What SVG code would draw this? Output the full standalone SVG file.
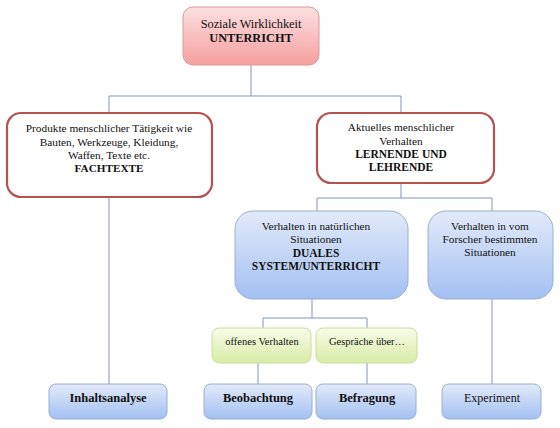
<svg xmlns="http://www.w3.org/2000/svg" width="560" height="428" viewBox="0 0 560 428">
<defs>
<linearGradient id="gPink" x1="0" y1="0" x2="0" y2="1">
<stop offset="0" stop-color="#fde0e0"/>
<stop offset="1" stop-color="#f59f9f"/>
</linearGradient>
<linearGradient id="gBlue" x1="0" y1="0" x2="0" y2="1">
<stop offset="0" stop-color="#e2eaf9"/>
<stop offset="1" stop-color="#a3c0f2"/>
</linearGradient>
<linearGradient id="gGreen" x1="0" y1="0" x2="0" y2="1">
<stop offset="0" stop-color="#f7fbe8"/>
<stop offset="1" stop-color="#d8eca6"/>
</linearGradient>
</defs>
<style>
text{font-family:"Liberation Serif","Times New Roman",serif;fill:#111;text-anchor:middle}
.n{font-size:11.3px}
.b{font-size:11.5px;font-weight:bold}
.bb{font-size:12.5px;font-weight:bold}
.pink{fill:url(#gPink);stroke:#dc9a9a;stroke-width:1}
.red{fill:#fff;stroke:#b5514f;stroke-width:2.2}
.blue{fill:url(#gBlue);stroke:#98aed2;stroke-width:1}
.green{fill:url(#gGreen);stroke:#c9de97;stroke-width:1}
.c{stroke:#8395b5;stroke-width:1;fill:none}
</style>
<rect width="560" height="428" fill="#fff"/>
<g id="connectors">
<path class="c" d="M251,65V96M109,96H401M109,96V113M401,96V113M109,197V384M401,183V198M317,198H492M317,198V211M492,198V211M312,299V318M263,318H367M263,318V328M367,318V328M258,363V384M367,363V384M492,299V384"/>
</g>
<g id="n-unterricht">
<rect class="pink" x="183" y="7" width="136" height="58" rx="10"/>
<text class="n" x="251" y="28" style="font-size:12.3px">Soziale Wirklichkeit</text>
<text class="b" x="251" y="42" style="font-size:12.3px">UNTERRICHT</text>
</g>
<g id="n-fachtexte">
<rect class="red" x="7" y="113" width="205" height="84" rx="14"/>
<text class="n" x="109" y="132">Produkte menschlicher Tätigkeit wie</text>
<text class="n" x="109" y="146">Bauten, Werkzeuge, Kleidung,</text>
<text class="n" x="109" y="159">Waffen, Texte etc.</text>
<text class="b" x="109" y="172" style="font-size:11.2px">FACHTEXTE</text>
</g>
<g id="n-lernende">
<rect class="red" x="317" y="113" width="177" height="70" rx="14"/>
<text class="n" x="401" y="131">Aktuelles menschlicher</text>
<text class="n" x="401" y="145">Verhalten</text>
<text class="b" x="401" y="158">LERNENDE UND</text>
<text class="b" x="401" y="171">LEHRENDE</text>
</g>
<g id="n-natuerlich">
<rect class="blue" x="235" y="211" width="173" height="88" rx="18"/>
<text class="n" x="316" y="230">Verhalten in natürlichen</text>
<text class="n" x="316" y="243">Situationen</text>
<text class="b" x="316" y="257">DUALES</text>
<text class="b" x="316" y="270">SYSTEM/UNTERRICHT</text>
</g>
<g id="n-forscher">
<rect class="blue" x="428" y="211" width="125" height="88" rx="18"/>
<text class="n" x="490" y="230">Verhalten in vom</text>
<text class="n" x="490" y="243">Forscher bestimmten</text>
<text class="n" x="490" y="256">Situationen</text>
</g>
<g id="n-offen">
<rect class="green" x="212" y="328" width="99" height="35" rx="7"/>
<text class="n" x="262" y="345" style="font-size:10.5px">offenes Verhalten</text>
</g>
<g id="n-gespraeche">
<rect class="green" x="316" y="328" width="101" height="35" rx="7"/>
<text class="n" x="367" y="345" style="font-size:10.5px">Gespräche über…</text>
</g>
<g id="n-inhaltsanalyse">
<rect class="blue" x="49" y="384" width="118" height="35" rx="7"/>
<text class="bb" x="108" y="402">Inhaltsanalyse</text>
</g>
<g id="n-beobachtung">
<rect class="blue" x="204" y="384" width="108" height="35" rx="7"/>
<text class="bb" x="258" y="402">Beobachtung</text>
</g>
<g id="n-befragung">
<rect class="blue" x="316" y="384" width="100" height="35" rx="7"/>
<text class="bb" x="367" y="402">Befragung</text>
</g>
<g id="n-experiment">
<rect class="blue" x="442" y="384" width="99" height="35" rx="7"/>
<text class="n" x="492" y="402" style="font-size:12px">Experiment</text>
</g>
</svg>
